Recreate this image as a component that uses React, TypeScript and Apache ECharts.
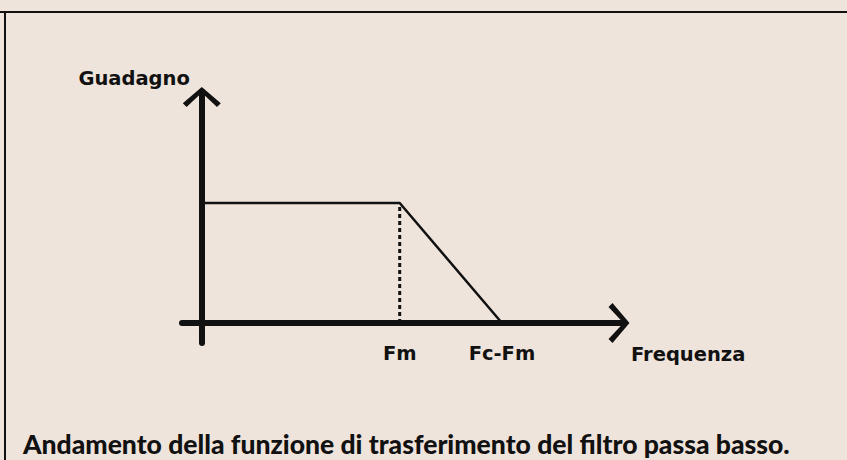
import React, { useEffect, useRef } from "react";
import * as echarts from "echarts";

// Frequency positions (arbitrary units) and gain values of the low-pass response
const responseX = [0, 6, 9.1];
const responseY = [1, 1, 0];
// Dotted marker at Fm
const markerX = [6, 6];
const markerY = [0, 1];
// Tick labels on the frequency axis
const tickValues = [6, 9.1];
const tickLabels = ["Fm", "Fc-Fm"];
const xAxisName = "Frequenza";
const yAxisName = "Guadagno";
const caption = "Andamento della funzione di trasferimento del filtro passa basso.";

const X_MIN = -0.6;
const X_MAX = 12.8;
const Y_MIN = -0.1667;
const Y_MAX = 1.925;

// open chevron arrow pointing up
const CHEVRON = "path://M20,0 L40,17 L36,21 L20,6 L4,21 L0,17 Z";

export default function App() {
  const ref = useRef<HTMLDivElement>(null);

  useEffect(() => {
    if (!ref.current) return;
    const chart = echarts.init(ref.current, undefined, { renderer: "svg" });
    const labelFont = {
      fontFamily: "DejaVu Sans",
      fontWeight: "bold" as const,
      fontSize: 19.5,
      color: "#111",
    };
    chart.setOption({
      animation: false,
      backgroundColor: "#efe4dc",
      title: {
        text: caption,
        left: 18,
        top: 424,
        textStyle: {
          fontFamily: "Lato",
          fontWeight: 900,
          fontSize: 26.5,
          lineHeight: 30,
          color: "#111",
        },
      },
      grid: { left: 182, right: 223, top: 92, bottom: 117, containLabel: false },
      xAxis: {
        type: "value",
        min: X_MIN,
        max: X_MAX,
        splitLine: { show: false },
        axisTick: { show: false },
        axisLine: {
          show: true,
          onZero: true,
          symbol: ["none", CHEVRON],
          symbolSize: [40, 21],
          symbolOffset: [0, -5],
          lineStyle: { color: "#111", width: 6 },
        },
        axisLabel: {
          customValues: tickValues,
          margin: 0,
          ...labelFont,
          formatter: (v: number) => {
            const i = tickValues.findIndex((t) => Math.abs(t - v) < 1e-6);
            return i >= 0 ? tickLabels[i] : "";
          },
        },
        name: xAxisName,
        nameLocation: "end",
        nameGap: 7,
        nameTextStyle: { ...labelFont, verticalAlign: "top", lineHeight: 64 },
      },
      yAxis: {
        type: "value",
        min: Y_MIN,
        max: Y_MAX,
        splitLine: { show: false },
        axisTick: { show: false },
        axisLabel: { show: false },
        axisLine: {
          show: true,
          onZero: true,
          symbol: ["none", CHEVRON],
          symbolSize: [38, 20],
          symbolOffset: [0, -5],
          lineStyle: { color: "#111", width: 6 },
        },
        name: yAxisName,
        nameLocation: "end",
        nameGap: 4,
        nameTextStyle: { ...labelFont, align: "right", padding: [0, 12, 0, 0] },
      },
      series: [
        {
          type: "line",
          data: responseX.map((x, i) => [x, responseY[i]]),
          showSymbol: false,
          lineStyle: { color: "#111", width: 2.5 },
          z: 3,
        },
        {
          type: "line",
          data: markerX.map((x, i) => [x, markerY[i]]),
          showSymbol: false,
          lineStyle: { color: "#111", width: 3, type: [4, 3] },
          z: 2,
        },
      ],
      graphic: [
        {
          type: "line",
          shape: { x1: 0, y1: 12, x2: 847, y2: 12 },
          style: { stroke: "#111", lineWidth: 2 },
          silent: true,
        },
        {
          type: "line",
          shape: { x1: 5, y1: 12, x2: 5, y2: 460 },
          style: { stroke: "#111", lineWidth: 2 },
          silent: true,
        },
      ],
    });
    return () => chart.dispose();
  }, []);

  return (
    <div
      ref={ref}
      style={{ position: "fixed", left: 0, top: 0, width: 847, height: 460 }}
    />
  );
}
